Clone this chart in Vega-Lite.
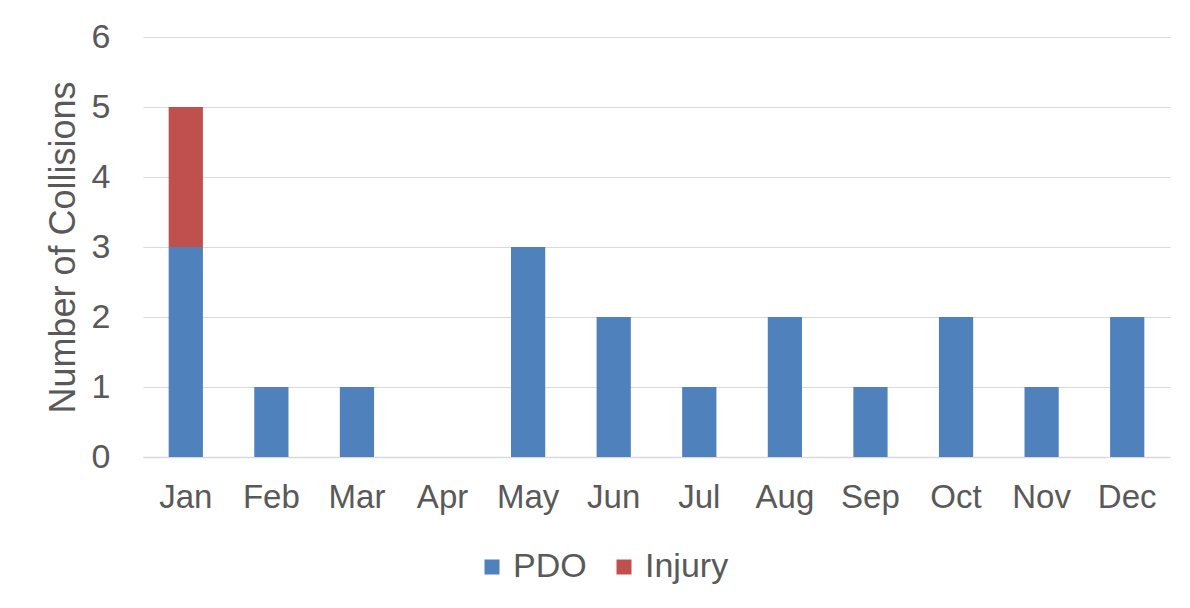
{
  "$schema": "https://vega.github.io/schema/vega-lite/v6.json",
  "width": 1027,
  "height": 420,
  "autosize": {"type": "none"},
  "padding": {"left": 143, "top": 37, "right": 20, "bottom": 151},
  "background": "white",
  "config": {
    "view": {"stroke": null},
    "font": "Liberation Sans",
    "axis": {"labelColor": "#595959", "titleColor": "#595959", "labelFont": "Liberation Sans", "titleFont": "Liberation Sans"},
    "legend": {"labelColor": "#595959", "labelFont": "Liberation Sans"}
  },
  "data": {
    "values": [
      {"month": "Jan", "type": "PDO", "count": 3},
      {"month": "Jan", "type": "Injury", "count": 2},
      {"month": "Feb", "type": "PDO", "count": 1},
      {"month": "Mar", "type": "PDO", "count": 1},
      {"month": "Apr", "type": "PDO", "count": 0},
      {"month": "May", "type": "PDO", "count": 3},
      {"month": "Jun", "type": "PDO", "count": 2},
      {"month": "Jul", "type": "PDO", "count": 1},
      {"month": "Aug", "type": "PDO", "count": 2},
      {"month": "Sep", "type": "PDO", "count": 1},
      {"month": "Oct", "type": "PDO", "count": 2},
      {"month": "Nov", "type": "PDO", "count": 1},
      {"month": "Dec", "type": "PDO", "count": 2}
    ]
  },
  "mark": {"type": "bar"},
  "encoding": {
    "x": {
      "field": "month",
      "type": "nominal",
      "sort": ["Jan","Feb","Mar","Apr","May","Jun","Jul","Aug","Sep","Oct","Nov","Dec"],
      "scale": {"paddingInner": 0.6, "paddingOuter": 0.3},
      "axis": {
        "title": null,
        "labelAngle": 0,
        "labelFontSize": 33,
        "labelPadding": 24,
        "labelOverlap": false,
        "ticks": false,
        "domainColor": "#d9d9d9",
        "domainWidth": 1.5,
        "grid": false
      }
    },
    "y": {
      "field": "count",
      "type": "quantitative",
      "stack": "zero",
      "scale": {"domain": [0, 6], "nice": false},
      "axis": {
        "title": "Number of Collisions",
        "titleFontSize": 36,
        "titleFontWeight": "normal",
        "titleBaseline": "alphabetic",
        "titleX": -69,
        "labelFontSize": 34,
        "labelPadding": 33,
        "labelOverlap": false,
        "ticks": false,
        "domain": false,
        "values": [0,1,2,3,4,5,6],
        "gridColor": "#d9d9d9",
        "gridWidth": 1.2
      }
    },
    "color": {
      "field": "type",
      "type": "nominal",
      "scale": {"domain": ["PDO", "Injury"], "range": ["#4F81BD", "#C0504D"]},
      "legend": {
        "title": null,
        "orient": "none",
        "direction": "horizontal",
        "legendX": 332,
        "legendY": 513,
        "padding": 0,
        "symbolType": "square",
        "symbolSize": 225,
        "symbolStrokeWidth": 0,
        "labelFontSize": 34,
        "labelOffset": 4,
        "columnPadding": 20
      }
    },
    "order": {"field": "type", "sort": "descending"}
  }
}
